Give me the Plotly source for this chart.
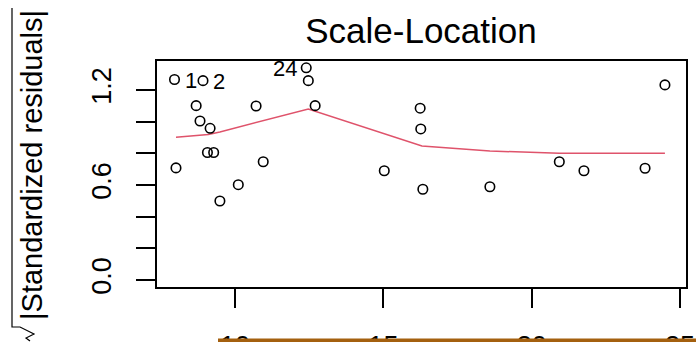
import plotly.graph_objects as go

# Scale-Location diagnostic: sqrt(|standardized residuals|) against fitted values
fitted = [7.96, 8.92, 12.40, 12.47, 12.70, 8.69, 10.71, 8.82, 9.16, 9.07, 9.28, 8.01,
          10.95, 10.11, 9.49, 15.03, 16.24, 16.26, 16.33, 18.59, 20.93, 21.76, 23.82, 24.49]
sqrt_abs_std_resid = [1.266, 1.259, 1.340, 1.259, 1.101, 1.101, 1.099, 1.004, 0.958, 0.805, 0.805, 0.708,
                      0.747, 0.602, 0.499, 0.690, 1.085, 0.954, 0.573, 0.589, 0.747, 0.690, 0.706, 1.232]
obs_id = [1, 2, 24, 4, 5, 6, 7, 8, 9, 10, 11, 12,
          13, 14, 15, 16, 17, 18, 19, 20, 21, 22, 23, 3]
labelled = {1: "right", 2: "right", 24: "left"}

# smoother through the points
smooth_x = [8.01, 9.10, 9.49, 12.47, 16.30, 18.59, 20.93, 24.49]
smooth_y = [0.902, 0.919, 0.935, 1.080, 0.846, 0.815, 0.800, 0.800]

x_ticks = [10, 15, 20, 25]
x_tick_text = ["10", "15", "20", "25"]
y_ticks = [0.0, 0.2, 0.4, 0.6, 0.8, 1.0, 1.2]
y_tick_text = ["0.0", "", "", "0.6", "", "", "1.2"]

FONT = "Liberation Sans, Arial, sans-serif"
W, H = 696, 342
L, R, T, B = 157, 10, 61, 55
PW, PH = W - L - R, H - T - B


def px_x(px):
    return (px - L) / PW


def px_y(py):
    return (H - B - py) / PH


fig = go.Figure()
fig.add_trace(go.Scatter(
    x=smooth_x, y=smooth_y, mode="lines",
    line=dict(color="#DF536B", width=1.5), hoverinfo="skip"))
fig.add_trace(go.Scatter(
    x=fitted, y=sqrt_abs_std_resid, mode="markers",
    marker=dict(symbol="circle-open", size=9.5, color="black", line=dict(width=1.6, color="black"))))

for xi, yi, oid in zip(fitted, sqrt_abs_std_resid, obs_id):
    if oid in labelled:
        side = labelled[oid]
        fig.add_annotation(
            x=xi, y=yi, xref="x", yref="y", text=str(oid), showarrow=False,
            xanchor="left" if side == "right" else "right", yanchor="middle",
            xshift=8 if side == "right" else -7, yshift=-1,
            font=dict(family=FONT, size=22, color="black"))

# y-axis title with a radical sign
fig.add_annotation(
    x=px_x(32), y=px_y(165), xref="paper", yref="paper",
    text="|Standardized residuals|", textangle=-90, showarrow=False,
    xanchor="center", yanchor="middle",
    font=dict(family=FONT, size=29, color="black"))
fig.add_shape(
    type="path", xref="paper", yref="paper",
    path=(f"M {px_x(12)} {px_y(8)} L {px_x(12)} {px_y(327)} "
          f"L {px_x(20)} {px_y(327)} L {px_x(34)} {px_y(334)} "
          f"L {px_x(26)} {px_y(338)} L {px_x(30)} {px_y(341)}"),
    line=dict(color="black", width=1.2))

# bar along the lower edge
fig.add_shape(
    type="rect", xref="paper", yref="paper",
    x0=px_x(218), x1=px_x(700), y0=px_y(350), y1=px_y(338.5),
    fillcolor="#A4600F", line=dict(width=0), layer="above")

fig.update_layout(
    width=W, height=H,
    margin=dict(l=L, r=R, t=T, b=B, autoexpand=False),
    paper_bgcolor="white", plot_bgcolor="white",
    showlegend=False,
    title=dict(text="Scale-Location", x=px_x(421), xref="paper",
               y=1 - 31 / H, yref="container", xanchor="center", yanchor="middle",
               automargin=False,
               font=dict(family=FONT, size=35, color="black")),
    xaxis=dict(range=[7.37, 25.2], tickvals=x_ticks, ticktext=x_tick_text,
               ticks="outside", ticklen=19, tickwidth=1.5, tickcolor="black",
               showline=True, linecolor="black", linewidth=1.5, mirror=True,
               showgrid=False, zeroline=False, ticklabelstandoff=15, automargin=False,
               tickfont=dict(family=FONT, size=27, color="black")),
    yaxis=dict(range=[-0.044, 1.383], tickvals=y_ticks, ticktext=y_tick_text,
               ticks="outside", ticklen=19, tickwidth=1.5, tickcolor="black",
               showline=True, linecolor="black", linewidth=1.5, mirror=True,
               showgrid=False, zeroline=False, tickangle=-90, ticklabelstandoff=14,
               automargin=False,
               tickfont=dict(family=FONT, size=27, color="black")),
)

fig.write_html("out.html")
